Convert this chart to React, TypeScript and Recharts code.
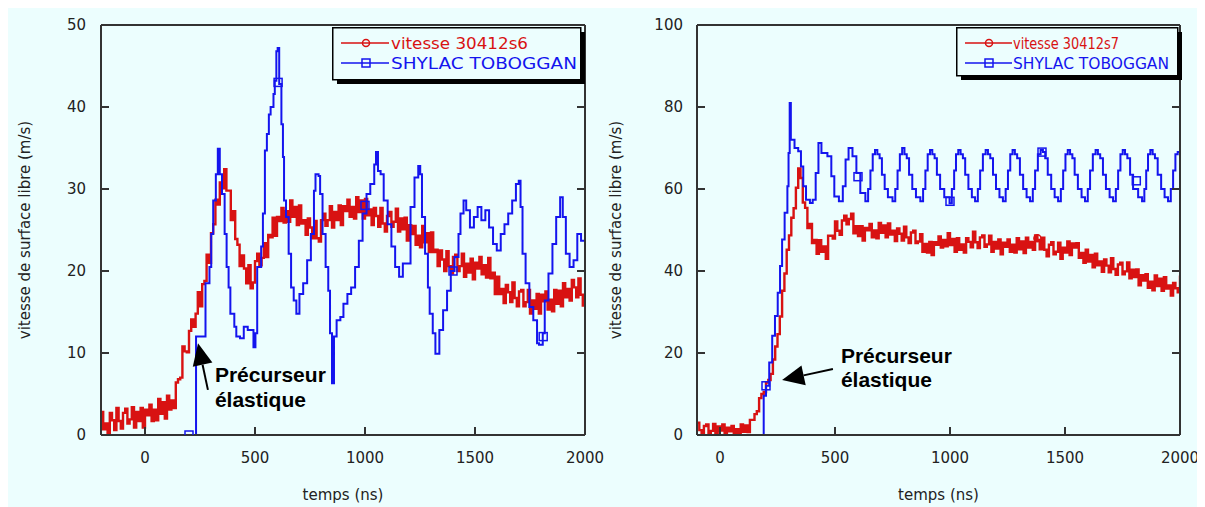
import React from "react";
import {
  ComposedChart,
  Legend,
  Line,
  ReferenceLine,
  Scatter,
  XAxis,
  YAxis,
} from "recharts";

const BG = "#ecfefe";
const RED = "#d81212";
const BLUE = "#1414ee";
const AXIS = "#333333";
const TICK_FONT = { fill: "#222", fontSize: 15, fontFamily: '"DejaVu Sans", sans-serif' };

// ---- left panel (shot 30412s6) ----
const leftTicksX = [0, 500, 1000, 1500, 2000];
const leftTicksY = [0, 10, 20, 30, 40, 50];
const leftNames = ["vitesse 30412s6", "SHYLAC TOBOGGAN"];

// noisy interferometer trace, read every 10 ns
const leftRed = [
  [-200, 2.8], [-190, 0.7], [-180, 1.4], [-170, 0.1], [-160, 2.7], [-150, 1.8], [-140, 0.6], [-130, 3.3],
  [-120, 1.7], [-110, 0.8], [-100, 2.7], [-90, 3.2], [-80, 1.4], [-70, 1.9], [-60, 3.4], [-50, 0.9],
  [-40, 2.8], [-30, 1.7], [-20, 3.3], [-10, 0.9], [0, 3.1], [10, 2.4], [20, 3.7], [30, 1.7],
  [40, 3.1], [50, 1.8], [60, 4.4], [70, 2.6], [80, 4.0], [90, 2.0], [100, 4.8], [110, 3.1],
  [120, 4.2], [130, 3.3], [140, 6.4], [150, 6.8], [160, 7.0], [170, 10.8], [180, 10.2], [190, 10.1],
  [200, 12.7], [210, 14.1], [220, 13.2], [230, 14.8], [240, 17.4], [250, 15.7], [260, 18.4], [270, 18.8],
  [280, 22.0], [290, 21.0], [300, 24.6], [310, 25.7], [320, 28.7], [330, 28.1], [340, 30.8], [350, 30.1],
  [360, 32.4], [370, 29.8], [380, 29.8], [390, 26.2], [400, 27.3], [410, 23.9], [420, 23.2], [430, 20.6],
  [440, 21.9], [450, 20.3], [460, 18.5], [470, 20.7], [480, 17.9], [490, 18.6], [500, 21.2], [510, 22.1],
  [520, 20.7], [530, 21.6], [540, 23.4], [550, 21.7], [560, 24.4], [570, 24.1], [580, 26.5], [590, 24.3],
  [600, 26.6], [610, 26.1], [620, 27.7], [630, 25.9], [640, 27.3], [650, 26.0], [660, 28.6], [670, 26.6],
  [680, 27.8], [690, 25.6], [700, 28.0], [710, 25.8], [720, 26.2], [730, 24.4], [740, 26.4], [750, 25.3],
  [760, 24.0], [770, 26.1], [780, 24.0], [790, 23.6], [800, 26.2], [810, 27.0], [820, 25.5], [830, 26.2],
  [840, 27.9], [850, 25.3], [860, 27.2], [870, 26.2], [880, 28.0], [890, 25.6], [900, 27.9], [910, 27.3],
  [920, 28.7], [930, 26.6], [940, 27.8], [950, 26.4], [960, 29.0], [970, 27.2], [980, 28.6], [990, 26.4],
  [1000, 28.8], [1010, 26.8], [1020, 27.5], [1030, 25.6], [1040, 27.7], [1050, 26.7], [1060, 25.4], [1070, 27.7],
  [1080, 25.8], [1090, 24.8], [1100, 26.7], [1110, 27.2], [1120, 25.4], [1130, 26.0], [1140, 27.6], [1150, 24.8],
  [1160, 26.4], [1170, 25.1], [1180, 26.5], [1190, 23.7], [1200, 25.6], [1210, 24.5], [1220, 25.5], [1230, 23.2],
  [1240, 24.3], [1250, 22.9], [1260, 25.5], [1270, 23.5], [1280, 24.6], [1290, 22.3], [1300, 24.7], [1310, 22.3],
  [1320, 22.6], [1330, 20.6], [1340, 22.5], [1350, 21.4], [1360, 20.0], [1370, 22.4], [1380, 20.6], [1390, 19.7],
  [1400, 21.7], [1410, 22.0], [1420, 20.0], [1430, 20.6], [1440, 22.1], [1450, 19.3], [1460, 20.9], [1470, 19.8],
  [1480, 21.5], [1490, 19.0], [1500, 21.0], [1510, 20.3], [1520, 21.7], [1530, 19.6], [1540, 20.7], [1550, 19.2],
  [1560, 21.6], [1570, 19.1], [1580, 19.8], [1590, 17.2], [1600, 19.3], [1610, 17.2], [1620, 17.8], [1630, 16.1],
  [1640, 18.3], [1650, 17.4], [1660, 16.2], [1670, 18.6], [1680, 16.7], [1690, 15.7], [1700, 17.5], [1710, 17.7],
  [1720, 15.7], [1730, 16.2], [1740, 17.7], [1750, 14.8], [1760, 16.4], [1770, 15.4], [1780, 17.2], [1790, 14.8],
  [1800, 17.1], [1810, 16.3], [1820, 17.5], [1830, 15.3], [1840, 16.5], [1850, 15.1], [1860, 17.7], [1870, 16.0],
  [1880, 17.6], [1890, 15.7], [1900, 18.5], [1910, 16.8], [1920, 17.8], [1930, 16.4], [1940, 18.9], [1950, 18.0],
  [1960, 16.8], [1970, 19.1], [1980, 17.1], [1990, 15.8], [2000, 17.2],
];

const leftBlue = [
  [200, 0], [232, 12], [266, 12], [275, 18.5], [293, 20.5], [301, 24.5], [310, 28.6], [322, 31.8],
  [331, 34.9], [340, 31.8], [350, 29.4], [362, 24.5], [371, 20.5], [380, 18], [388, 14.8], [406, 13.2],
  [415, 12], [432, 11.8], [449, 13.2], [467, 12.8], [484, 12.8], [493, 10.7], [502, 12.4], [510, 20.5],
  [528, 23], [536, 27], [545, 34.7], [554, 36.7], [563, 39.1], [571, 40], [584, 41.6], [590, 43.2],
  [597, 46.8], [603, 47.2], [610, 42.8], [620, 37.9], [627, 33.9], [632, 28.6], [641, 26.6], [653, 22.1],
  [664, 18], [676, 16.4], [688, 14.8], [702, 17.2], [719, 18.5], [737, 21.3], [754, 24.5], [768, 29.8],
  [775, 31.8], [789, 31.6], [796, 29.4], [807, 24.5], [821, 20.5], [833, 17.6], [841, 12.4], [850, 6.3],
  [859, 12], [871, 14], [888, 14.4], [902, 16], [920, 17.2], [937, 18], [955, 20.5], [972, 23.7],
  [989, 27], [1007, 29.4], [1024, 30.6], [1042, 33], [1050, 34.5], [1059, 32.2], [1071, 31.8], [1085, 28.6],
  [1103, 25.7], [1120, 23], [1137, 20.5], [1155, 19.3], [1172, 20.9], [1190, 20.9], [1207, 27.8], [1225, 31.4],
  [1242, 32.8], [1251, 31.8], [1259, 26.6], [1273, 22.1], [1286, 18], [1294, 14.8], [1308, 12.4], [1320, 9.9],
  [1338, 12.8], [1355, 15.2], [1373, 17.6], [1390, 20], [1407, 21.7], [1425, 24.5], [1434, 27], [1448, 28.6],
  [1460, 27.4], [1477, 25.3], [1495, 26.6], [1512, 27.8], [1529, 26.2], [1547, 27.4], [1564, 25.3], [1582, 23.3],
  [1599, 22.5], [1617, 24.5], [1634, 25.7], [1651, 27], [1669, 28.6], [1686, 30.6], [1699, 31], [1707, 27.8],
  [1716, 22.1], [1730, 18.5], [1747, 15.6], [1765, 14], [1782, 11.2], [1791, 11], [1808, 12.4], [1817, 16.4],
  [1834, 19.7], [1852, 23.3], [1869, 26.6], [1887, 29], [1899, 26.6], [1913, 22.1], [1930, 20.5], [1948, 21.3],
  [1965, 24.5], [1982, 23.7], [2000, 23.7],
];

const leftBlueMarks = [[200, 0], [605, 43], [1000, 28], [1400, 20], [1810, 12]];
const leftRedMarks: number[][] = [];
// annotation arrow: tail -> tip, in data units
const leftArrow = [[286, 5.5], [241, 11.2]];

// ---- right panel (shot 30412s7) ----
const rightTicksX = [0, 500, 1000, 1500, 2000];
const rightTicksY = [0, 20, 40, 60, 80, 100];
const rightNames = ["vitesse 30412s7", "SHYLAC TOBOGGAN"];

const rightRed = [
  [-100, 3.0], [-90, 1.2], [-80, 0.3], [-70, 2.2], [-60, 2.6], [-50, 0.5], [-40, 1.0], [-30, 2.7],
  [-20, 0.2], [-10, 2.1], [0, 1.1], [10, 2.6], [20, 0.0], [30, 1.8], [40, 0.9], [50, 2.2],
  [60, 0.1], [70, 1.4], [80, 0.1], [90, 2.6], [100, 0.8], [110, 2.3], [120, 0.7], [130, 3.7],
  [140, 3.7], [150, 5.1], [160, 5.8], [170, 9.0], [180, 10.0], [190, 10.5], [200, 12.8], [210, 13.4],
  [220, 14.9], [230, 18.4], [240, 21.6], [250, 24.6], [260, 28.9], [270, 35.2], [280, 39.4], [290, 45.2],
  [300, 48.7], [310, 53.0], [320, 55.3], [330, 60.3], [340, 65.0], [350, 62.7], [360, 56.7], [370, 55.4],
  [380, 50.5], [390, 51.5], [400, 46.8], [410, 47.6], [420, 44.2], [430, 47.5], [440, 44.7], [450, 46.0],
  [460, 43.0], [470, 48.6], [480, 48.6], [490, 47.9], [500, 52.1], [510, 49.8], [520, 48.8], [530, 52.3],
  [540, 53.5], [550, 51.4], [560, 52.7], [570, 54.0], [580, 49.2], [590, 50.9], [600, 48.5], [610, 50.9],
  [620, 47.4], [630, 50.5], [640, 49.9], [650, 51.5], [660, 48.2], [670, 49.9], [680, 48.0], [690, 51.7],
  [700, 49.3], [710, 51.1], [720, 48.2], [730, 51.6], [740, 48.9], [750, 49.8], [760, 47.3], [770, 50.4],
  [780, 49.1], [790, 47.4], [800, 50.8], [810, 48.2], [820, 46.8], [830, 49.4], [840, 49.8], [850, 46.8],
  [860, 47.2], [870, 49.0], [880, 44.7], [890, 46.6], [900, 44.5], [910, 47.1], [920, 43.9], [930, 47.0],
  [940, 46.4], [950, 48.4], [960, 45.7], [970, 47.6], [980, 46.0], [990, 49.2], [1000, 46.3], [1010, 47.8],
  [1020, 44.7], [1030, 48.0], [1040, 45.2], [1050, 46.5], [1060, 44.5], [1070, 48.0], [1080, 47.1], [1090, 45.8],
  [1100, 49.6], [1110, 47.0], [1120, 45.6], [1130, 48.2], [1140, 48.7], [1150, 45.9], [1160, 46.5], [1170, 48.6],
  [1180, 44.7], [1190, 47.1], [1200, 45.5], [1210, 47.7], [1220, 44.1], [1230, 46.9], [1240, 45.9], [1250, 47.7],
  [1260, 44.7], [1270, 46.4], [1280, 44.5], [1290, 48.0], [1300, 45.3], [1310, 47.2], [1320, 44.4], [1330, 48.1],
  [1340, 45.7], [1350, 47.1], [1360, 45.2], [1370, 48.7], [1380, 47.6], [1390, 45.3], [1400, 48.1], [1410, 45.2],
  [1420, 43.6], [1430, 46.4], [1440, 47.0], [1450, 44.1], [1460, 44.7], [1470, 46.9], [1480, 43.0], [1490, 45.7],
  [1500, 44.5], [1510, 47.2], [1520, 43.9], [1530, 46.7], [1540, 45.7], [1550, 46.8], [1560, 43.2], [1570, 44.4],
  [1580, 42.0], [1590, 45.2], [1600, 42.3], [1610, 43.9], [1620, 40.9], [1630, 44.2], [1640, 41.4], [1650, 42.3],
  [1660, 39.8], [1670, 42.8], [1680, 41.3], [1690, 39.7], [1700, 43.1], [1710, 40.5], [1720, 39.1], [1730, 41.6],
  [1740, 42.0], [1750, 39.2], [1760, 39.9], [1770, 42.1], [1780, 38.2], [1790, 40.3], [1800, 38.5], [1810, 40.4],
  [1820, 36.5], [1830, 39.0], [1840, 37.7], [1850, 39.2], [1860, 35.9], [1870, 37.4], [1880, 35.3], [1890, 38.9],
  [1900, 36.3], [1910, 38.1], [1920, 35.2], [1930, 38.5], [1940, 35.7], [1950, 36.5], [1960, 34.0], [1970, 37.1],
  [1980, 35.8], [1990, 34.8], [2000, 38.9],
];

const rightBlue = [
  [185, 0], [190, 9.6], [200, 12], [214, 17.7], [227, 24.2], [239, 29], [251, 34.7], [261, 41.2],
  [270, 47.7], [281, 54.2], [293, 60.7], [298, 68.8], [303, 81], [308, 72], [324, 70], [340, 69.2],
  [352, 65.5], [362, 60.7], [374, 57.4], [391, 56.6], [403, 57.4], [416, 63.9], [428, 71.2], [441, 68.8],
  [467, 68], [484, 63.1], [497, 58.2], [517, 57], [534, 60.7], [546, 67.2], [559, 70], [576, 68],
  [593, 63.9], [610, 59],
  [632, 57], [644, 60], [654, 64.5], [664, 68.5], [674, 69.5], [684, 68.5], [694, 67.5], [704, 63.5], [716, 60], [730, 58],
  [750, 57], [762, 60], [772, 64.5], [782, 68.5], [792, 70], [802, 68.5], [812, 67.5], [822, 63.5], [836, 60], [852, 58],
  [871, 57], [883, 60], [893, 64.5], [903, 68.5], [913, 69.5], [923, 68.5], [933, 67.5], [943, 63.5], [957, 60], [975, 58],
  [998, 56.5], [1008, 60], [1018, 64.5], [1026, 68.5], [1036, 69.5], [1046, 68.5], [1056, 67.5], [1066, 63.5], [1080, 60], [1095, 58],
  [1109, 57], [1121, 60], [1131, 64.5], [1143, 68.5], [1155, 69.5], [1165, 68.5], [1175, 67.5], [1187, 63.5], [1200, 60], [1215, 58],
  [1230, 57], [1242, 60], [1252, 64.5], [1262, 68.5], [1272, 69.5], [1282, 68.5], [1292, 67.5], [1304, 63.5], [1318, 60], [1333, 58],
  [1348, 57], [1360, 60], [1370, 64.5], [1382, 68.5], [1394, 69.5], [1404, 69], [1414, 67.5], [1425, 63.5], [1440, 60], [1455, 58],
  [1470, 57], [1482, 60], [1492, 64.5], [1502, 68.5], [1512, 69.5], [1522, 68.5], [1532, 67.5], [1542, 63.5], [1556, 60], [1572, 58],
  [1587, 57], [1599, 60], [1609, 64.5], [1621, 68.5], [1633, 69.5], [1643, 68.5], [1653, 67.5], [1665, 63.5], [1678, 60], [1694, 58],
  [1709, 57], [1721, 60], [1731, 64.5], [1741, 68.5], [1751, 69.5], [1761, 68.5], [1771, 67.5], [1783, 63.5], [1796, 60], [1818, 58],
  [1835, 57], [1845, 60], [1853, 64.5], [1861, 68.5], [1871, 69.5], [1881, 68.5], [1891, 67.5], [1903, 63.5], [1918, 60], [1933, 58],
  [1948, 57], [1960, 60], [1970, 64.5], [1980, 68.5], [1990, 69], [2000, 68.5],
];

const rightBlueMarks = [[200, 12], [600, 63], [1000, 57], [1400, 69], [1810, 62]];
const rightRedMarks = [[1380, 48]];
const rightArrow = [[491, 16.1], [270, 13.4]];

const rows = (pairs: number[][]) => pairs.map(([t, v]) => ({ t, v }));

function Square(p: any) {
  return <rect x={p.cx - 4} y={p.cy - 4} width={8} height={8} fill="none" stroke={BLUE} strokeWidth={1.5} />;
}

function Ring(p: any) {
  return <circle cx={p.cx} cy={p.cy} r={3.5} fill="none" stroke={RED} strokeWidth={1.5} />;
}

function makeArrow(textDx: number, textDy1: number, textDy2: number) {
  return (p: any) => {
    const { x1, y1, x2, y2 } = p;
    const dx = x2 - x1;
    const dy = y2 - y1;
    const len = Math.hypot(dx, dy) || 1;
    const ux = dx / len;
    const uy = dy / len;
    const hl = 22;
    const hw = 10;
    const bx = x2 - ux * hl;
    const by = y2 - uy * hl;
    const pts = `${x2},${y2} ${bx - uy * hw},${by + ux * hw} ${bx + uy * hw},${by - ux * hw}`;
    const font = { fontFamily: '"Liberation Sans", Arial, sans-serif', fontWeight: 700, fontSize: 21 };
    return (
      <g>
        <line x1={x1} y1={y1} x2={bx} y2={by} stroke="#000" strokeWidth={2} />
        <polygon points={pts} fill="#000" />
        <text x={x1 + textDx} y={y1 + textDy1} {...font} fill="#000">Précurseur</text>
        <text x={x1 + textDx} y={y1 + textDy2} {...font} fill="#000">élastique</text>
      </g>
    );
  };
}

type LegendSpec = {
  w: number;
  h: number;
  textX: number;
  widths: number[];
  lineEnd: number;
  markX: number;
};

function LegendBox({ names, spec }: { names: string[]; spec: LegendSpec }) {
  const { w, h, textX, widths, lineEnd, markX } = spec;
  const colors = [RED, BLUE];
  return (
    <svg width={w + 6} height={h + 6} style={{ display: "block" }}>
      <rect x={5} y={5} width={w} height={h} fill="#000" />
      <rect x={0.75} y={0.75} width={w} height={h} fill={BG} stroke="#000" strokeWidth={1.5} />
      {names.map((name, i) => {
        const cy = 16 + i * 20;
        return (
          <g key={name}>
            <line x1={9} y1={cy} x2={lineEnd} y2={cy} stroke={colors[i]} strokeWidth={1.5} />
            {i === 0 ? (
              <circle cx={markX} cy={cy} r={3.5} fill="none" stroke={RED} strokeWidth={1.5} />
            ) : (
              <rect x={markX - 4} y={cy - 4} width={8} height={8} fill="none" stroke={BLUE} strokeWidth={1.5} />
            )}
            <text
              x={textX}
              y={cy + 6}
              fill={colors[i]}
              fontSize={16}
              fontFamily='"DejaVu Sans", sans-serif'
              textLength={widths[i]}
              lengthAdjust="spacingAndGlyphs"
            >
              {name}
            </text>
          </g>
        );
      })}
    </svg>
  );
}

type PanelProps = {
  yLeftWidth: number;
  marginRight: number;
  xDomain: number[];
  xTicks: number[];
  yDomain: number[];
  yTicks: number[];
  yTickMargin: number;
  yLabelOffset: number;
  red: number[][];
  blue: number[][];
  redMarks: number[][];
  blueMarks: number[][];
  names: string[];
  legendLeft: number;
  legend: LegendSpec;
  arrow: number[][];
  note: number[];
};

function Panel(p: PanelProps) {
  const axisLine = { stroke: AXIS, strokeWidth: 2 };
  const tickLine = { stroke: AXIS, strokeWidth: 2 };
  const blank = () => "";
  return (
    <ComposedChart
      width={600}
      height={499}
      margin={{ top: 7, right: p.marginRight, bottom: 4, left: 0 }}
    >
      <XAxis
        dataKey="t"
        type="number"
        domain={p.xDomain}
        ticks={p.xTicks}
        interval={0}
        allowDataOverflow
        height={68}
        tickSize={-8}
        tickMargin={25}
        axisLine={axisLine}
        tickLine={tickLine}
        tick={TICK_FONT}
        label={{
          value: "temps (ns)",
          position: "insideBottom",
          offset: 3,
          style: { fill: "#222", fontSize: 15, fontFamily: '"DejaVu Sans", sans-serif' },
        }}
      />
      <XAxis
        xAxisId="top"
        orientation="top"
        type="number"
        domain={p.xDomain}
        ticks={p.xTicks}
        interval={0}
        allowDataOverflow
        height={10}
        tickSize={-8}
        axisLine={axisLine}
        tickLine={tickLine}
        tickFormatter={blank}
      />
      <YAxis
        type="number"
        domain={p.yDomain}
        ticks={p.yTicks}
        interval={0}
        allowDataOverflow
        width={p.yLeftWidth}
        tickSize={-8}
        tickMargin={p.yTickMargin}
        axisLine={axisLine}
        tickLine={tickLine}
        tick={TICK_FONT}
        label={{
          value: "vitesse de surface libre (m/s)",
          angle: -90,
          position: "insideLeft",
          offset: p.yLabelOffset,
          style: { fill: "#222", fontSize: 15, fontFamily: '"DejaVu Sans", sans-serif', textAnchor: "middle" },
        }}
      />
      <YAxis
        yAxisId="r"
        orientation="right"
        type="number"
        domain={p.yDomain}
        ticks={p.yTicks}
        interval={0}
        allowDataOverflow
        width={10}
        tickSize={-8}
        axisLine={axisLine}
        tickLine={tickLine}
        tickFormatter={blank}
      />
      <Line
        data={rows(p.red)}
        dataKey="v"
        name={p.names[0]}
        type="stepAfter"
        stroke={RED}
        strokeWidth={2.4}
        dot={false}
        isAnimationActive={false}
      />
      <Line
        data={rows(p.blue)}
        dataKey="v"
        name={p.names[1]}
        type="stepAfter"
        stroke={BLUE}
        strokeWidth={2}
        dot={false}
        isAnimationActive={false}
      />
      <Scatter data={rows(p.redMarks)} dataKey="v" shape={Ring} isAnimationActive={false} legendType="none" />
      <Scatter data={rows(p.blueMarks)} dataKey="v" shape={Square} isAnimationActive={false} legendType="none" />
      <ReferenceLine
        segment={[
          { x: p.arrow[0][0], y: p.arrow[0][1] },
          { x: p.arrow[1][0], y: p.arrow[1][1] },
        ]}
        shape={makeArrow(p.note[0], p.note[1], p.note[2])}
      />
      <Legend
        layout="horizontal"
        verticalAlign="middle"
        align="center"
        wrapperStyle={{ left: p.legendLeft, top: 19, width: p.legend.w + 6, height: p.legend.h + 6 }}
        content={() => <LegendBox names={p.names} spec={p.legend} />}
      />
    </ComposedChart>
  );
}

export default function App() {
  return (
    <div style={{ position: "relative", width: 1192, height: 499, background: BG }}>
      <div style={{ position: "absolute", left: 0, top: 0 }}>
        <Panel
          yLeftWidth={93}
          marginRight={13}
          xDomain={[-200, 2000]}
          xTicks={leftTicksX}
          yDomain={[0, 50]}
          yTicks={leftTicksY}
          yTickMargin={23}
          yLabelOffset={17}
          red={leftRed}
          blue={leftBlue}
          redMarks={leftRedMarks}
          blueMarks={leftBlueMarks}
          names={leftNames}
          legendLeft={324}
          legend={{ w: 248, h: 52, textX: 59, widths: [137, 186], lineEnd: 57, markX: 34 }}
          arrow={leftArrow}
          note={[7, -8, 17]}
        />
      </div>
      <div style={{ position: "absolute", left: 592, top: 0 }}>
        <Panel
          yLeftWidth={97}
          marginRight={10}
          xDomain={[-100, 2000]}
          xTicks={rightTicksX}
          yDomain={[0, 100]}
          yTicks={rightTicksY}
          yTickMargin={22}
          yLabelOffset={16}
          red={rightRed}
          blue={rightBlue}
          redMarks={rightRedMarks}
          blueMarks={rightBlueMarks}
          names={rightNames}
          legendLeft={356}
          legend={{ w: 221, h: 48, textX: 57, widths: [106, 156], lineEnd: 56, markX: 33 }}
          arrow={rightArrow}
          note={[8, -6, 18]}
        />
      </div>
    </div>
  );
}
